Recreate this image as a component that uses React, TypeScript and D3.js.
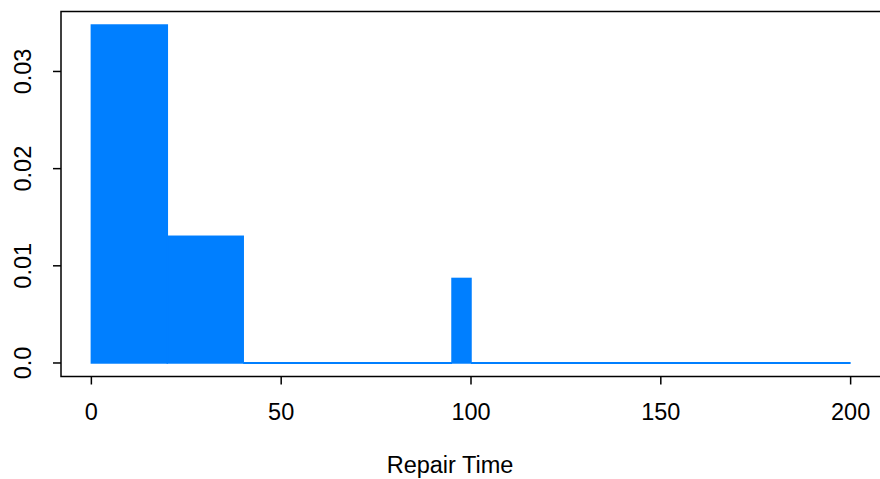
import React from "react";
import * as d3 from "d3";

// Histogram bins (unequal widths) and their densities
const breaks = [0, 20, 40, 95, 100, 200];
const densities = [0.03478, 0.01304, 0, 0.0087, 0];
const xTicks = [0, 50, 100, 150, 200];
const yTicks = [0, 0.01, 0.02, 0.03];
const yTickLabels = ["0.0", "0.01", "0.02", "0.03"];
const xLabel = "Repair Time";

const W = 880;
const H = 479;
const FILL = "#007FFF";

export default function App() {
  const x = d3.scaleLinear().domain([-8, 208]).range([61, 881]);
  const yMax = d3.max(densities) as number;
  const y = d3
    .scaleLinear()
    .domain([-yMax * 0.04, yMax * 1.04])
    .range([376.5, 11.5]);

  const bins = densities.map((d, i) => ({ x0: breaks[i], x1: breaks[i + 1], d }));
  const font = "Liberation Sans, Arial, sans-serif";
  const fs = 23.5;

  return (
    <svg
      width={W}
      height={H}
      style={{ position: "absolute", left: 0, top: 0, background: "#fff" }}
    >
      {bins.map((b, i) =>
        b.d > 0 ? (
          <rect
            key={i}
            x={x(b.x0)}
            y={y(b.d)}
            width={x(b.x1) - x(b.x0)}
            height={y(0) - y(b.d)}
            fill={FILL}
            stroke={FILL}
            strokeWidth={1.5}
          />
        ) : (
          <line
            key={i}
            x1={x(b.x0)}
            x2={x(b.x1)}
            y1={y(0)}
            y2={y(0)}
            stroke={FILL}
            strokeWidth={2.2}
          />
        )
      )}
      <rect
        x={61}
        y={11.5}
        width={820}
        height={365}
        fill="none"
        stroke="#000"
        strokeWidth={1.5}
      />
      {xTicks.map((t) => (
        <g key={t} transform={`translate(${x(t)},376.5)`}>
          <line y2={8} stroke="#000" strokeWidth={1.5} />
          <text
            y={43}
            textAnchor="middle"
            fontFamily={font}
            fontSize={fs}
            fill="#000"
          >
            {t}
          </text>
        </g>
      ))}
      {yTicks.map((t, i) => (
        <g key={t} transform={`translate(61,${y(t)})`}>
          <line x2={-8} stroke="#000" strokeWidth={1.5} />
          <text
            transform="translate(-39,0) rotate(-90)"
            y={8.5}
            textAnchor="middle"
            fontFamily={font}
            fontSize={fs}
            fill="#000"
          >
            {yTickLabels[i]}
          </text>
        </g>
      ))}
      <text
        x={450}
        y={473}
        textAnchor="middle"
        fontFamily={font}
        fontSize={fs}
        fill="#000"
      >
        {xLabel}
      </text>
    </svg>
  );
}
